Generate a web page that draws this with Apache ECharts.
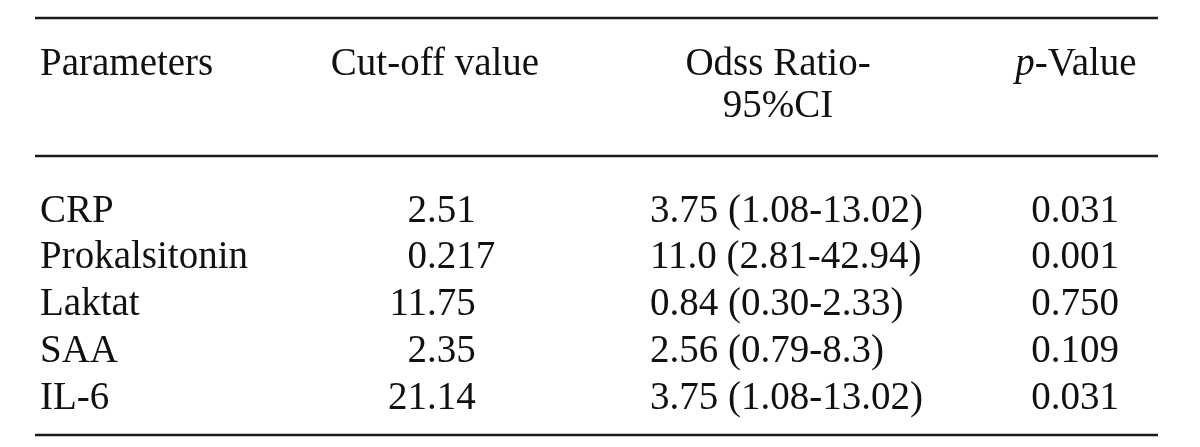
<!DOCTYPE html>
<html>
<head>
<meta charset="utf-8">
<script src="https://cdn.jsdelivr.net/npm/echarts@6/dist/echarts.min.js"></script>
<style>
html,body{margin:0;padding:0;background:#fff;}
#chart{width:1200px;height:447px;}
</style>
</head>
<body>
<div id="chart"></div>
<script>
// ---- data ----
const parameters = ['CRP', 'Prokalsitonin', 'Laktat', 'SAA', 'IL-6'];
const cutoffValues = ['2.51', '0.217', '11.75', '2.35', '21.14'];
const oddsRatios = ['3.75 (1.08-13.02)', '11.0 (2.81-42.94)', '0.84 (0.30-2.33)', '2.56 (0.79-8.3)', '3.75 (1.08-13.02)'];
const pValues = ['0.031', '0.001', '0.750', '0.109', '0.031'];
const headerParam = 'Parameters';
const headerCutoff = 'Cut-off value';
const headerOdds = ['Odss Ratio-', '95%CI'];
const headerP = ['p', '-Value'];

// ---- layout (pixels) ----
const FONT_FAMILY = '"Liberation Serif", "Times New Roman", serif';
const FONT_SIZE = 39;
const TEXT_COLOR = '#111';
const COL = { cutDecimal: 427, odds: 650, p: 1075 };
const RULE = { x1: 35, x2: 1158, w: 2.5, color: '#1a1a1a' };

const font = FONT_SIZE + 'px ' + FONT_FAMILY;

function textEl(x, y, text, align) {
  return { type: 'text', x: x, y: y,
    style: { text: text, font: font, fill: TEXT_COLOR, textAlign: align, textVerticalAlign: 'middle' } };
}

// column series: draws texts through the axes' coord system
function columnSeries(colX, values, mode) {
  return {
    type: 'custom',
    silent: true,
    data: values.map((v, i) => [colX, i, v]),
    renderItem: function (params, api) {
      const idx = params.dataIndex;
      const p = api.coord([api.value(0), api.value(1)]);
      const txt = values[idx];
      if (mode === 'decimal') {
        const k = txt.indexOf('.');
        const ip = k >= 0 ? txt.slice(0, k) : txt;
        const fp = k >= 0 ? txt.slice(k) : '';
        return { type: 'group', children: [
          textEl(p[0], p[1], ip, 'right'),
          textEl(p[0], p[1], fp, 'left')
        ] };
      }
      return textEl(p[0], p[1], txt, mode);
    }
  };
}

const chart = echarts.init(document.getElementById('chart'), null, { renderer: 'canvas' });
chart.setOption({
  backgroundColor: '#ffffff',
  animation: false,
  grid: { left: 40, right: 0, top: 188, bottom: 25, containLabel: false },
  xAxis: { type: 'value', min: 40, max: 1200, show: false },
  yAxis: {
    type: 'category', inverse: true, data: parameters,
    axisLine: { show: false }, axisTick: { show: false }, splitLine: { show: false },
    axisLabel: { interval: 0, align: 'left', margin: 0, fontFamily: FONT_FAMILY, fontSize: FONT_SIZE, color: TEXT_COLOR }
  },
  series: [
    columnSeries(COL.cutDecimal, cutoffValues, 'decimal'),
    columnSeries(COL.odds, oddsRatios, 'left'),
    columnSeries(COL.p, pValues, 'center')
  ],
  graphic: [
    { type: 'line', shape: { x1: RULE.x1, y1: 18, x2: RULE.x2, y2: 18 }, style: { stroke: RULE.color, lineWidth: RULE.w } },
    { type: 'line', shape: { x1: RULE.x1, y1: 156, x2: RULE.x2, y2: 156 }, style: { stroke: RULE.color, lineWidth: RULE.w } },
    { type: 'line', shape: { x1: RULE.x1, y1: 435, x2: RULE.x2, y2: 435 }, style: { stroke: RULE.color, lineWidth: RULE.w } },
    { type: 'text', x: 40, y: 65, style: { text: headerParam, font: font, fill: TEXT_COLOR, textAlign: 'left', textVerticalAlign: 'middle' } },
    { type: 'text', x: 435, y: 65, style: { text: headerCutoff, font: font, fill: TEXT_COLOR, textAlign: 'center', textVerticalAlign: 'middle' } },
    { type: 'text', x: 778, y: 65, style: { text: headerOdds[0], font: font, fill: TEXT_COLOR, textAlign: 'center', textVerticalAlign: 'middle' } },
    { type: 'text', x: 778, y: 107, style: { text: headerOdds[1], font: font, fill: TEXT_COLOR, textAlign: 'center', textVerticalAlign: 'middle' } },
    { type: 'text', x: 1076, y: 65, style: {
        text: '{i|' + headerP[0] + '}' + headerP[1], font: font, fill: TEXT_COLOR, textAlign: 'center', textVerticalAlign: 'middle',
        rich: { i: { fontStyle: 'italic', fontFamily: FONT_FAMILY, fontSize: FONT_SIZE, fill: TEXT_COLOR } } } }
  ]
});
</script>
</body>
</html>
